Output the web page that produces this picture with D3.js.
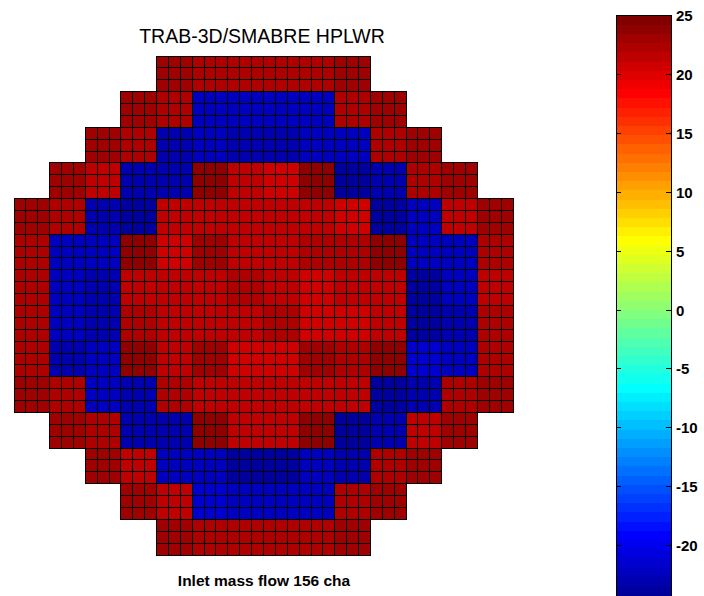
<!DOCTYPE html>
<html lang="en">
<head>
    <meta charset="UTF-8">
    <title>TRAB-3D/SMABRE HPLWR</title>
    <script src="https://d3js.org/d3.v7.min.js"></script>
    <style>
        body {
            margin: 0;
            padding: 0;
            background-color: white;
        }
        svg {
            display: block;
            font-family: 'Liberation Sans', Arial, sans-serif;
        }
        .title {
            font-size: 19.5px;
            fill: black;
            text-anchor: middle;
        }
        .xlabel {
            font-size: 15.5px;
            font-weight: bold;
            fill: black;
            text-anchor: middle;
        }
        .cb-label {
            font-size: 15px;
            font-weight: bold;
            fill: black;
        }
    </style>
</head>
<body>
    <svg width="704" height="596"></svg>

    <script>
        // assembly values per core row (14 x 14, null = outside the core)
        const row00 = [null, null, null, null, 23.0, 22.3, 22.2, 22.3, 22.2, 23.0, null, null, null, null];
        const row01 = [null, null, null, 23.1, 22.2, -22.3, -22.2, -22.2, -22.3, 22.3, 23.0, null, null, null];
        const row02 = [null, null, 23.0, 22.2, -23.1, -22.4, -22.9, -22.9, -22.4, -22.3, 22.2, 23.0, null, null];
        const row03 = [null, 23.0, 21.5, -23.0, -23.1, 23.9, 21.6, 20.8, 23.8, -23.8, -23.0, 22.3, 23.1, null];
        const row04 = [23.0, 22.3, -23.0, -23.8, 21.5, 21.4, 21.5, 21.4, 21.3, 20.8, -23.8, -22.3, 21.5, 23.0];
        const row05 = [22.3, -22.3, -22.2, 23.9, 20.8, 23.1, 21.5, 21.6, 22.2, 22.3, 23.8, -22.1, -22.2, 22.3];
        const row06 = [22.3, -22.3, -23.0, 21.5, 21.4, 21.5, 22.0, 21.5, 20.8, 21.4, 21.5, -23.8, -22.3, 21.6];
        const row07 = [22.3, -22.3, -23.0, 22.2, 21.5, 21.4, 21.4, 22.0, 20.7, 20.8, 21.5, -23.8, -23.0, 22.3];
        const row08 = [22.3, -22.8, -22.2, 23.9, 21.4, 23.2, 20.7, 20.8, 23.1, 22.3, 23.9, -21.5, -22.2, 22.3];
        const row09 = [23.0, 22.3, -22.2, -23.0, 22.3, 21.5, 21.4, 21.5, 21.4, 21.5, -23.8, -22.9, 22.3, 23.0];
        const row10 = [null, 23.0, 22.3, -23.1, -22.9, 23.9, 21.5, 21.5, 23.9, -23.7, -23.0, 21.6, 22.8, null];
        const row11 = [null, null, 23.0, 21.5, -22.3, -22.6, -23.8, -23.8, -22.3, -23.0, 22.3, 23.0, null, null];
        const row12 = [null, null, null, 23.0, 21.5, -21.5, -22.3, -22.3, -22.1, 22.3, 22.9, null, null, null];
        const row13 = [null, null, null, null, 23.0, 22.3, 22.3, 22.2, 22.3, 23.0, null, null, null, null];
        const coreRows = [row00, row01, row02, row03, row04, row05, row06, row07,
                          row08, row09, row10, row11, row12, row13];

        const colorLimits = [-25, 25];
        const colorTicks = [25, 20, 15, 10, 5, 0, -5, -10, -15, -20];

        const titleText = "TRAB-3D/SMABRE HPLWR";
        const xLabelText = "Inlet mass flow 156 cha";

        const svg = d3.select("svg");

        // matlab style jet(64) colormap
        function jet(m) {
            const n = Math.ceil(m / 4);
            const u = [];
            for (let k = 1; k <= n; k++) u.push(k / n);
            for (let k = 1; k < n; k++) u.push(1);
            for (let k = n; k >= 1; k--) u.push(k / n);
            const off = Math.ceil(n / 2) - (m % 4 == 1 ? 1 : 0);
            const pick = function(i) { return (i >= 1 && i <= u.length) ? u[i - 1] : 0; };
            const cols = [];
            for (let i = 1; i <= m; i++) {
                const r = pick(i - off - n), g = pick(i - off), b = pick(i - off + n);
                cols.push(d3.rgb(r * 255, g * 255, b * 255).formatHex());
            }
            return cols;
        }
        const jetColors = jet(64);

        const color = d3.scaleQuantize()
                        .domain(colorLimits)
                        .range(jetColors);

        // every assembly is drawn as 3 x 3 calculation cells
        const sub = 3;
        const nCells = coreRows.length * sub;

        const xScale = d3.scaleLinear().domain([0, nCells]).range([14, 513]);
        const yScale = d3.scaleLinear().domain([0, nCells]).range([56, 555]);

        const cells = [];
        coreRows.forEach(function(row, r) {
            row.forEach(function(v, c) {
                if (v === null) return;
                for (let i = 0; i < sub; i++) {
                    for (let j = 0; j < sub; j++) {
                        cells.push({ row: r * sub + i, col: c * sub + j, value: v });
                    }
                }
            });
        });

        svg.append("g")
           .selectAll("rect")
           .data(cells)
           .enter()
           .append("rect")
           .attr("x", function(d) { return xScale(d.col); })
           .attr("y", function(d) { return yScale(d.row); })
           .attr("width", xScale(1) - xScale(0))
           .attr("height", yScale(1) - yScale(0))
           .attr("fill", function(d) { return color(d.value); })
           .attr("stroke", "#000")
           .attr("stroke-width", 1)
           .attr("shape-rendering", "crispEdges");

        svg.append("text")
           .attr("class", "title")
           .attr("x", 262)
           .attr("y", 43)
           .text(titleText);

        svg.append("text")
           .attr("class", "xlabel")
           .attr("x", 264)
           .attr("y", 586)
           .text(xLabelText);

        // Colorbar
        const cbX = 616, cbW = 55;
        const cbScale = d3.scaleLinear()
                          .domain(colorLimits)
                          .range([604, 15]);
        const step = (colorLimits[1] - colorLimits[0]) / jetColors.length;

        const cb = svg.append("g");
        cb.selectAll("rect")
          .data(jetColors)
          .enter()
          .append("rect")
          .attr("x", cbX)
          .attr("y", function(d, i) { return cbScale(colorLimits[0] + (i + 1) * step); })
          .attr("width", cbW)
          .attr("height", function(d, i) {
              return cbScale(colorLimits[0] + i * step) - cbScale(colorLimits[0] + (i + 1) * step) + 0.5;
          })
          .attr("fill", function(d) { return d; })
          .attr("shape-rendering", "crispEdges");

        cb.append("rect")
          .attr("x", cbX + 0.5)
          .attr("y", cbScale(colorLimits[1]) + 0.5)
          .attr("width", cbW)
          .attr("height", cbScale(colorLimits[0]) - cbScale(colorLimits[1]))
          .attr("fill", "none")
          .attr("stroke", "#000")
          .attr("stroke-width", 1);

        const tickG = cb.selectAll(".cb-tick")
          .data(colorTicks)
          .enter()
          .append("g")
          .attr("class", "cb-tick")
          .attr("transform", function(d) { return "translate(0," + (Math.round(cbScale(d)) + 0.5) + ")"; });

        tickG.append("line")
             .attr("x1", cbX).attr("x2", cbX + 5)
             .attr("stroke", "#000");
        tickG.append("line")
             .attr("x1", cbX + cbW - 5).attr("x2", cbX + cbW)
             .attr("stroke", "#000");
        tickG.append("text")
             .attr("class", "cb-label")
             .attr("x", cbX + cbW + 5)
             .attr("dy", "0.36em")
             .text(function(d) { return String(d); });
    </script>
</body>
</html>
